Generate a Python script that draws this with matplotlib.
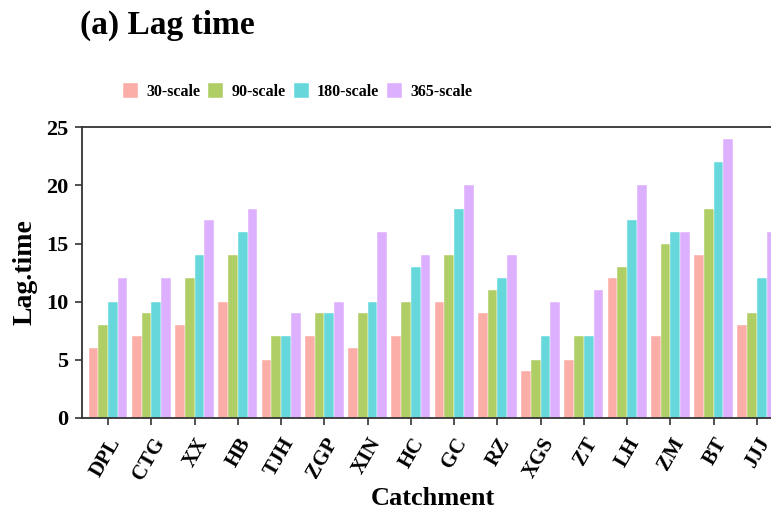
import matplotlib.pyplot as plt
import matplotlib.transforms as mtransforms
import numpy as np

catchments = ["DPL", "CTG", "XX", "HB", "TJH", "ZGP", "XIN", "HC",
              "GC", "RZ", "XGS", "ZT", "LH", "ZM", "BT", "JJJ"]
scales = ["30-scale", "90-scale", "180-scale", "365-scale"]
lag_30 = [6, 7, 8, 10, 5, 7, 6, 7, 10, 9, 4, 5, 12, 7, 14, 8]
lag_90 = [8, 9, 12, 14, 7, 9, 9, 10, 14, 11, 5, 7, 13, 15, 18, 9]
lag_180 = [10, 10, 14, 16, 7, 9, 10, 13, 18, 12, 7, 7, 17, 16, 22, 12]
lag_365 = [12, 12, 17, 18, 9, 10, 16, 14, 20, 14, 10, 11, 20, 16, 24, 16]

colors = ["#FBADA7", "#B0CE66", "#66D8DC", "#DDB0FF"]

plt.rcParams["font.family"] = ["Liberation Serif", "DejaVu Serif"]
plt.rcParams["font.weight"] = "bold"

fig = plt.figure(figsize=(7.71, 5.12), dpi=100)
ax = fig.add_axes([0.1064, 0.1842, 0.909, 0.567])

x = np.arange(len(catchments))
w = 0.225
for i, (vals, lab) in enumerate(zip([lag_30, lag_90, lag_180, lag_365], scales)):
    ax.bar(x + (i - 1.5) * w, vals, width=w, color=colors[i], label=lab,
           edgecolor="white", linewidth=0.3)

ax.set_xlim(-0.6, len(catchments) - 0.4)
ax.set_ylim(0, 25)
ax.set_yticks([0, 5, 10, 15, 20, 25])
ax.set_xticks(x)
ax.set_xticklabels(catchments, rotation=60, ha="right", rotation_mode="anchor",
                   fontsize=15, fontweight="bold")
# nudge the rotated labels to the right, like the original
shift = mtransforms.ScaledTranslation(11 / 100, 0, fig.dpi_scale_trans)
for t in ax.get_xticklabels():
    t.set_transform(t.get_transform() + shift)
for t in ax.get_yticklabels():
    t.set_fontsize(16)
    t.set_fontweight("bold")
for s in ax.spines.values():
    s.set_color("#333333")
    s.set_linewidth(1.3)
ax.tick_params(colors="#333333", labelcolor="black", length=5, width=1.2)
ax.tick_params(axis="y", pad=5)
ax.tick_params(axis="x", pad=7)

ax.set_xlabel("Catchment", fontsize=19, fontweight="bold", va="center")
ax.xaxis.set_label_coords(0.5, -0.277)
ax.set_ylabel("Lag.time", fontsize=20, fontweight="bold", va="center")
ax.yaxis.set_label_coords(-0.081, 0.5)

fig.text(0.104, 0.951, "(a) Lag time", fontsize=24, fontweight="bold",
         va="center", ha="left")

fig.legend(loc="center", bbox_to_anchor=(0.386, 0.822), ncol=4, frameon=False,
           prop={"size": 11.5, "weight": "bold"}, handlelength=0.95,
           handleheight=1.05, handletextpad=0.5, columnspacing=0.5)

fig.savefig("out.png", dpi=100)
